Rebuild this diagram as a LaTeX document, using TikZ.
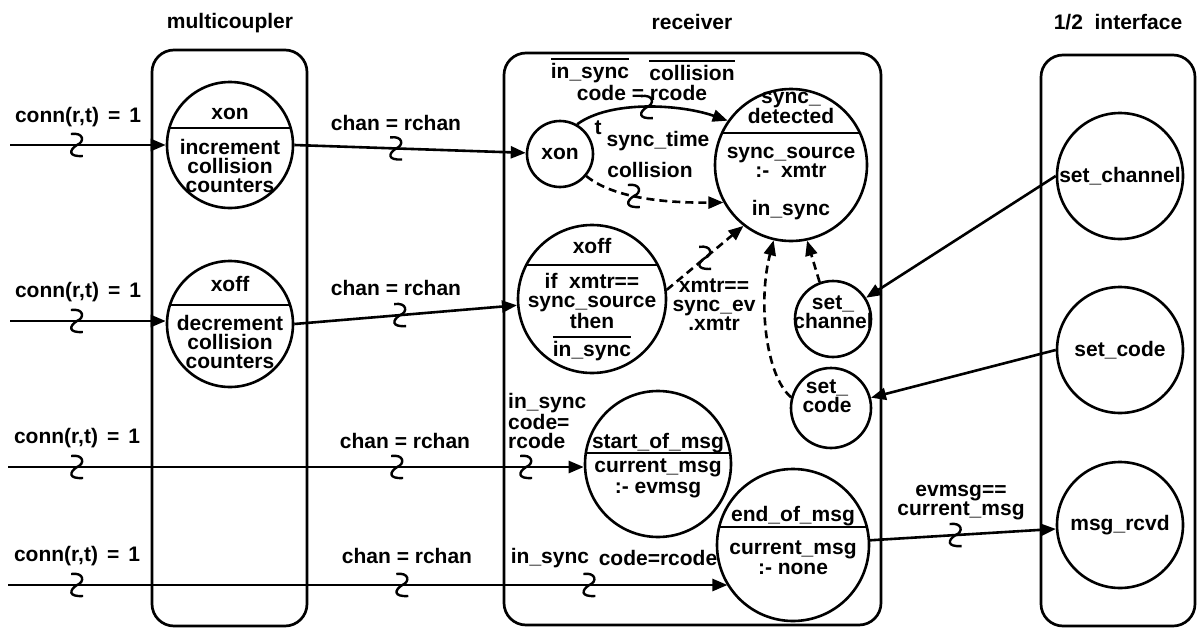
\documentclass[tikz,border=0pt]{standalone}
\usepackage{fontspec}
\setmainfont{Liberation Sans}
\usetikzlibrary{arrows.meta,calc}
% overlined label (negated condition)
\newcommand{\barred}[1]{\leavevmode\vbox{\hrule height 2.2pt\kern 3pt\hbox{#1}}}
\newcommand{\wsp}{\hspace{9pt}}
\tikzset{
  lbl/.style={font=\fontsize{21}{19}\selectfont\bfseries, align=center, inner sep=0pt},
  st/.style={circle, draw, line width=2.6pt, inner sep=0pt, minimum size=#1},
  split/.style={path picture={\draw[line width=2.6pt]
      ([xshift=-150pt,yshift=#1]path picture bounding box.center) --
      ([xshift=150pt,yshift=#1]path picture bounding box.center);}},
  grp/.style={draw, line width=2.7pt, rounded corners=22pt},
  flow/.style={line width=2.6pt, -{Triangle[length=15pt,width=12pt]}},
  dflow/.style={flow, dash pattern=on 8pt off 5pt},
  squig/.pic={\draw[line width=2.4pt] (-6,-11) .. controls (7,-13) and (8,-3) .. (0,0)
      .. controls (-8,5) and (-9,12) .. (6,11);}
}
\begin{document}
\begin{tikzpicture}[x=1pt,y=-1pt]
\useasboundingbox (0,0) rectangle (1197,629);
\fill[white] (0,0) rectangle (1197,629);

% process groups
\draw[grp] (152,50) rectangle (307,626);
\draw[grp] (504,53) rectangle (881,625);
\draw[grp] (1041,55) rectangle (1195,626);
\node[lbl] (ttl1) at (230,23) {multicoupler};
\node[lbl] (ttl2) at (692,22) {receiver};
\node[lbl] (ttl3) at (1118,22) {1/2~~interface};

% multicoupler states
\node[st=126, split=17pt] (mxon) at (230,145) {};
\node[lbl] (mxonT) at (230,114) {xon};
\node[lbl] (mxonA) at (230,166) {increment\\collision\\counters};
\node[st=126, split=19pt] (mxoff) at (230,324) {};
\node[lbl] (mxoffT) at (230,284) {xoff};
\node[lbl] (mxoffA) at (230,342) {decrement\\collision\\counters};

% receiver states
\node[st=66, lbl] (rxon) at (560,154) {xon};
\node[st=152, split=32pt] (sd) at (791,165) {};
\node[lbl, font=\fontsize{21}{20}\selectfont\bfseries] (sdT) at (791,108) {sync\_\\detected};
\node[lbl] (sdA) at (791,162) {sync\_source\\:-~~xmtr};
\node[lbl] (sdB) at (791,210) {in\_sync};
\node[st=148, split=34pt] (rxoff) at (592,299) {};
\node[lbl] (rxoffT) at (592,246) {xoff};
\node[lbl] (rxoffA) at (592,301) {if~~xmtr==\\sync\_source\\then};
\node[lbl] (rxoffB) at (592,348) {\barred{in\_sync}};
\node[st=76] (rsetch) at (833,319) {};
\node[lbl] (rsetchT) at (833,312) {set\_\\channel};
\node[st=80] (rsetcode) at (831,408) {};
\node[lbl] (rsetcodeT) at (827,396) {set\_\\code};
\node[st=146, split=11pt] (som) at (658,464) {};
\node[lbl] (somT) at (658,443) {start\_of\_msg};
\node[lbl, font=\fontsize{21}{21}\selectfont\bfseries] (somA) at (658,478) {current\_msg\\:-~evmsg};
\node[st=152, split=18pt] (eom) at (793,545) {};
\node[lbl] (eomT) at (793,516) {end\_of\_msg};
\node[lbl, font=\fontsize{21}{20}\selectfont\bfseries] (eomA) at (793,558) {current\_msg\\:-~none};

% 1/2 interface states
\node[st=126, lbl] (isetch) at (1120,176) {set\_channel};
\node[st=126, lbl] (isetcode) at (1120,350) {set\_code};
\node[st=126, lbl] (imsg) at (1120,525) {msg\_rcvd};

% incoming event lines
\coordinate (in1) at (10,145);
\coordinate (in2) at (10,321);
\coordinate (in3) at (8,467);
\coordinate (in4) at (8,585);
\draw[flow] (in1) -- (in1 -| mxon.west) coordinate[pos=.43] (q1);
\draw[flow] (in2) -- (in2 -| mxoff.west) coordinate[pos=.43] (q3);
\draw[flow] (mxon.east) -- (rxon) coordinate[pos=.44] (q2);
\draw[flow] (mxoff.east) -- (rxoff) coordinate[pos=.475] (q4);
\draw[flow] (in3) -- (in3 -| som.west) coordinate[pos=.12] (q5) coordinate[pos=.676] (q6) coordinate[pos=.9] (q7);
\draw[flow] (in4) -- (in4 -| eom.212) coordinate[pos=.096] (q8) coordinate[pos=.548] (q9) coordinate[pos=.808] (q10);

% receiver transitions
\draw[flow] (rxon.60) .. controls (610,100) and (680,104) .. (sd.145) coordinate[pos=.5] (q11);
\draw[dflow] (rxon.-40) .. controls (612,197) and (660,203) .. (sd.209) coordinate[pos=.45] (q12);
\draw[dflow] (rxoff.7) -- (sd.232) coordinate[pos=.5] (q13);
\draw[dflow] (rsetch.110) -- (sd.-78);
\draw[dflow] (rsetcode.165) .. controls (765,375) and (758,300) .. (sd.-103);
\draw[flow] (isetch.west) -- (rsetch);
\draw[flow] (isetcode.west) -- (rsetcode);
\draw[flow] (eom) -- (imsg) coordinate[pos=.46] (q14);

\foreach \q in {q1,q2,q3,q4,q5,q6,q7,q8,q9,q10,q11,q12,q13,q14}
  \pic at (\q) {squig};

% event labels
\node[lbl] (c1) at (78,117) {conn(r,t)\wsp=\wsp1};
\node[lbl] (c2) at (78,292) {conn(r,t)\wsp=\wsp1};
\node[lbl] (c3) at (77,438) {conn(r,t)\wsp=\wsp1};
\node[lbl] (c4) at (77,556) {conn(r,t)\wsp=\wsp1};
\node[lbl] (ch1) at (396,123) {chan = rchan};
\node[lbl] (ch2) at (396,288) {chan = rchan};
\node[lbl] (ch3) at (405,441) {chan = rchan};
\node[lbl] (ch4) at (407,556) {chan = rchan};
\node[lbl] (g1) at (590,70) {\barred{in\_sync}};
\node[lbl] (g2) at (692,70) {\barred{collision}};
\node[lbl] (g3) at (642,93) {code = rcode};
\node[lbl] (tt) at (598,128) {t};
\node[lbl] (tsub) at (658,141) {sync\_time};
\node[lbl] (coll) at (650,170) {collision};
\node[lbl] (xm) at (714,305) {xmtr==\\sync\_ev\\.xmtr};
\node[lbl, align=left, anchor=west] (g4) at (508,421) {in\_sync\\code=\\rcode};
\node[lbl] (g5) at (550,558) {in\_sync};
\node[lbl] (g6) at (658,558) {code=rcode};
\node[lbl] (ev) at (961,503) {evmsg==\\current\_msg};
\end{tikzpicture}
\end{document}
